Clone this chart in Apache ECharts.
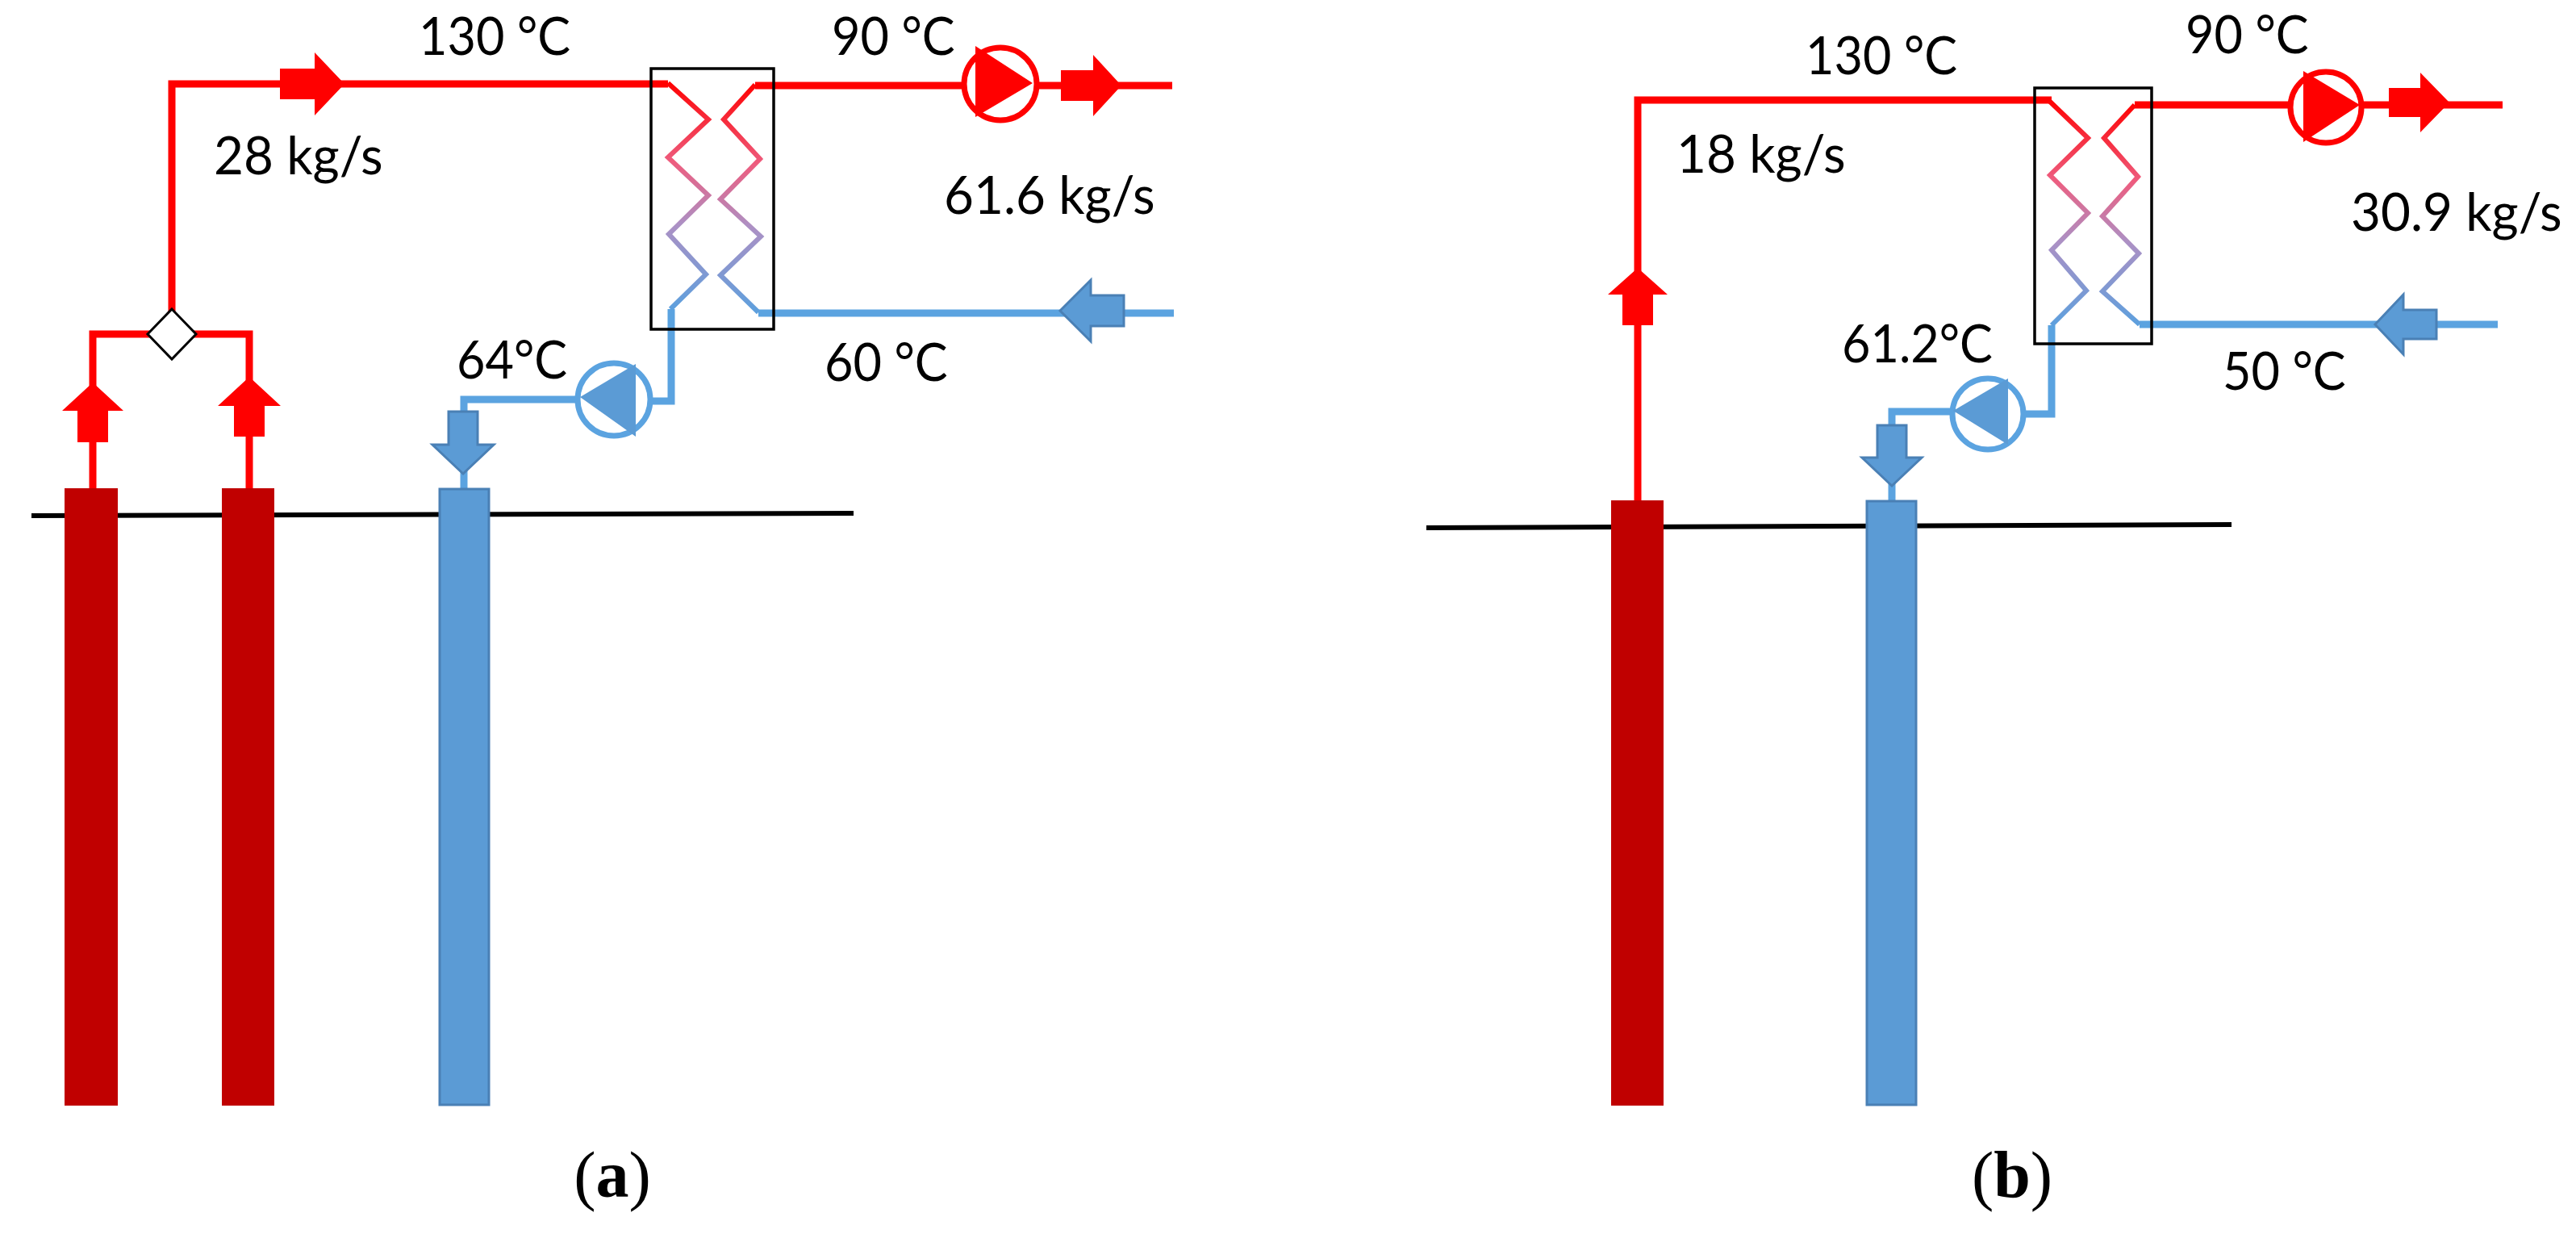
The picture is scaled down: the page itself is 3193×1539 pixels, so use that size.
<!DOCTYPE html>
<html>
<head>
    <meta http-equiv="content-type" content="text/html; charset=utf-8">
    <title>Geothermal doublet and triplet</title>
    <script src="https://cdn.jsdelivr.net/npm/echarts@6/dist/echarts.min.js"></script>
    <style type="text/css">
    html, body { margin: 0; padding: 0; background: #fff; }
    #chart { width: 3193px; height: 1539px; }
    </style>
</head>
<body>
    <div id="chart"></div>
    <script>
        // schematic geometry in reference units, the axes below map them onto the canvas
        // red pipes
        var hotPipes = [
            [[115, 605], [115, 414], [309, 414], [309, 605]],
            [[213, 414], [213, 104], [828, 104]],
            [[936, 106], [1453, 106]],
            [[2030, 620], [2030, 124], [2543, 124]],
            [[2646, 130], [3102, 130]]
        ];
        // blue pipes
        var coldPipes = [
            [[1455, 388], [940, 388]],
            [[832, 383], [832, 497], [761, 497]],
            [[761, 495], [575, 495], [575, 606]],
            [[3096, 402], [2652, 402]],
            [[2543, 403], [2543, 513], [2464, 513]],
            [[2464, 510], [2345, 510], [2345, 621]]
        ];
        // heat exchanger coils
        var coils = [
            [[828, 103], [878, 148], [828, 195], [878, 242], [829, 290], [875, 340], [831, 383]],
            [[936, 105], [897, 148], [942, 197], [893, 247], [943, 293], [893, 341], [940, 387]],
            [[2540, 125], [2588, 171], [2541, 217], [2588, 264], [2543, 310], [2586, 360], [2543, 403]],
            [[2646, 130], [2608, 171], [2650, 219], [2606, 268], [2651, 314], [2606, 361], [2652, 402]]
        ];
        var groundLines = [
            [[39, 639], [1058, 636]],
            [[1768, 654], [2766, 650]]
        ];
        // wells: x0, x1, top, bottom
        var hotWells = [[80, 146, 605, 1370], [275, 340, 605, 1370], [1997, 2062, 620, 1370]];
        var coldWells = [[545, 606, 606, 1369], [2314, 2375, 621, 1369]];
        // exchangers: x0, y0, x1, y1
        var exchangers = [[807, 85, 959, 408], [2522, 109, 2667, 426]];
        // arrows: tipX, tipY, head base, head half width, tail end, body half width, axis
        var hotArrows = [
            [427, 104, 390, 39, 347, 19, 'h'],
            [1390, 106, 1355, 38, 1315, 19, 'h'],
            [3036, 127, 3000, 37, 2961, 18, 'h'],
            [115, 474, 509, 38, 548, 19, 'v'],
            [309, 467, 503, 39, 541, 19, 'v'],
            [2030, 332, 365, 37, 403, 19, 'v']
        ];
        var coldArrows = [
            [1314, 385, 1352, 38, 1393, 19, 'h'],
            [2944, 402, 2979, 37, 3020, 18, 'h'],
            [574, 587, 551, 38, 510, 18, 'v'],
            [2345, 602, 567, 37, 527, 18, 'v']
        ];
        // pumps: cx, cy, r, triangle base x, triangle top y, triangle bottom y, tip x, tip y
        var hotPumps = [
            [1240, 104, 45, 1209, 57, 145, 1280, 103],
            [2883, 133, 44, 2855, 88, 176, 2925, 130]
        ];
        var coldPumps = [
            [761, 495, 45, 788, 451, 541, 719, 492],
            [2464, 513, 44, 2489, 469, 551, 2421, 509]
        ];
        var valves = [[213, 414, 30, 31]];
        // text
        var labelTexts = ['130 °C', '90 °C', '28 kg/s', '61.6 kg/s', '64°C', '60 °C',
                          '130 °C', '90 °C', '18 kg/s', '30.9 kg/s', '61.2°C', '50 °C'];
        var labelX = [519, 1031, 265, 1170, 566, 1022, 2238, 2709, 2078, 2914, 2283, 2755];
        var labelY = [47, 47, 195, 244, 448, 451, 71, 45, 193, 265, 428, 462];
        var captionLetters = ['a', 'b'];
        var captionX = [759, 2494];
        var captionY = [1462, 1462];

        var RED = '#ff0000', BLUE = '#5b9bd5', PIPE_BLUE = '#5ba3e0', BLUE_EDGE = '#4a80b5';

        function lineSeries(points, style, z) {
            return {
                type: 'line',
                data: points,
                symbol: 'none',
                silent: true,
                clip: false,
                z: z,
                animation: false,
                lineStyle: style
            };
        }

        function shapeSeries(items, build, z) {
            return {
                type: 'custom',
                coordinateSystem: 'cartesian2d',
                silent: true,
                clip: false,
                z: z,
                animation: false,
                data: items.map(function (d) { return [d[0], d[1]]; }),
                renderItem: function (params, api) {
                    return build(items[params.dataIndex], api);
                }
            };
        }

        function polygon(points, api, style) {
            return {
                type: 'polygon',
                shape: { points: points.map(function (p) { return api.coord(p); }) },
                style: style
            };
        }

        function wellShape(fill, stroke) {
            return function (d, api) {
                return polygon([[d[0], d[2]], [d[1], d[2]], [d[1], d[3]], [d[0], d[3]]], api, {
                    fill: fill, stroke: stroke, lineWidth: stroke ? 3 : 0
                });
            };
        }

        function arrowShape(style) {
            return function (d, api) {
                var tip = d[0], mid = d[1], head = d[2], hw = d[3], tail = d[4], bw = d[5];
                var pts = d[6] === 'h'
                    ? [[tip, mid], [head, mid - hw], [head, mid - bw], [tail, mid - bw],
                       [tail, mid + bw], [head, mid + bw], [head, mid + hw]]
                    : [[tip, mid], [tip - hw, head], [tip - bw, head], [tip - bw, tail],
                       [tip + bw, tail], [tip + bw, head], [tip + hw, head]];
                return polygon(pts, api, style);
            };
        }

        function pumpShape(color, triangleFill) {
            return function (d, api) {
                var c = api.coord([d[0], d[1]]);
                return {
                    type: 'group',
                    children: [{
                        type: 'circle',
                        shape: { cx: c[0], cy: c[1], r: d[2] },
                        style: { fill: '#fff', stroke: color, lineWidth: 7 }
                    }, polygon([[d[3], d[4]], [d[3], d[5]], [d[6], d[7]]], api, { fill: triangleFill })]
                };
            };
        }

        var series = [];
        groundLines.forEach(function (p) {
            series.push(lineSeries(p, { color: '#000', width: 6 }, 1));
        });
        hotPipes.forEach(function (p) {
            series.push(lineSeries(p, { color: RED, width: 9, join: 'miter', cap: 'butt' }, 2));
        });
        coldPipes.forEach(function (p) {
            series.push(lineSeries(p, { color: PIPE_BLUE, width: 9, join: 'miter', cap: 'butt' }, 2));
        });
        coils.forEach(function (p) {
            series.push(lineSeries(p, {
                width: 6,
                join: 'miter',
                color: new echarts.graphic.LinearGradient(0, 0, 0, 1, [
                    { offset: 0, color: '#ff0000' },
                    { offset: 0.35, color: '#ee5c7e' },
                    { offset: 0.62, color: '#ad90c4' },
                    { offset: 1, color: '#5ba0de' }
                ])
            }, 3));
        });
        series.push(shapeSeries(exchangers, function (d, api) {
            return polygon([[d[0], d[1]], [d[2], d[1]], [d[2], d[3]], [d[0], d[3]]], api, {
                fill: 'none', stroke: '#000', lineWidth: 3.5
            });
        }, 4));
        series.push(shapeSeries(hotWells, wellShape('#c00000'), 5));
        series.push(shapeSeries(coldWells, wellShape(BLUE, BLUE_EDGE), 5));
        series.push(shapeSeries(hotArrows, arrowShape({ fill: RED }), 6));
        series.push(shapeSeries(coldArrows, arrowShape({ fill: BLUE, stroke: BLUE_EDGE, lineWidth: 3 }), 6));
        series.push(shapeSeries(hotPumps, pumpShape(RED, RED), 6));
        series.push(shapeSeries(coldPumps, pumpShape(PIPE_BLUE, BLUE), 6));
        series.push(shapeSeries(valves, function (d, api) {
            return polygon([[d[0], d[1] - d[3]], [d[0] + d[2], d[1]], [d[0], d[1] + d[3]], [d[0] - d[2], d[1]]], api, {
                fill: '#fff', stroke: '#000', lineWidth: 3
            });
        }, 6));

        var labelRows = labelTexts.map(function (t, i) { return [labelX[i], labelY[i], t]; });
        series.push(shapeSeries(labelRows, function (d, api) {
            var c = api.coord([d[0], d[1]]);
            return {
                type: 'text',
                x: c[0],
                y: c[1],
                // the temperatures run a little narrower than the flow rates
                scaleX: d[2].indexOf('°') >= 0 ? 0.94 : 0.98,
                style: {
                    text: d[2],
                    fill: '#000',
                    font: '65px Lato',
                    align: 'left',
                    verticalAlign: 'middle'
                }
            };
        }, 7));

        var captionRows = captionLetters.map(function (t, i) { return [captionX[i], captionY[i], t]; });
        series.push(shapeSeries(captionRows, function (d, api) {
            var c = api.coord([d[0], d[1]]);
            return {
                type: 'text',
                x: c[0],
                y: c[1],
                style: {
                    text: '{p|(}{b|' + d[2] + '}{p|)}',
                    align: 'center',
                    verticalAlign: 'middle',
                    rich: {
                        p: { fontFamily: 'Liberation Serif', fontSize: 82, fill: '#000' },
                        b: { fontFamily: 'Liberation Serif', fontSize: 82, fontWeight: 'bold', fill: '#000' }
                    }
                }
            };
        }, 7));

        var chart = echarts.init(document.getElementById('chart'));
        chart.setOption({
            backgroundColor: '#fff',
            animation: false,
            grid: { left: 0, right: 0, top: 0, bottom: 0 },
            xAxis: { type: 'value', min: 0, max: 3193, show: false },
            yAxis: { type: 'value', min: 0, max: 1539, inverse: true, show: false },
            series: series
        });
    </script>
</body>
</html>
